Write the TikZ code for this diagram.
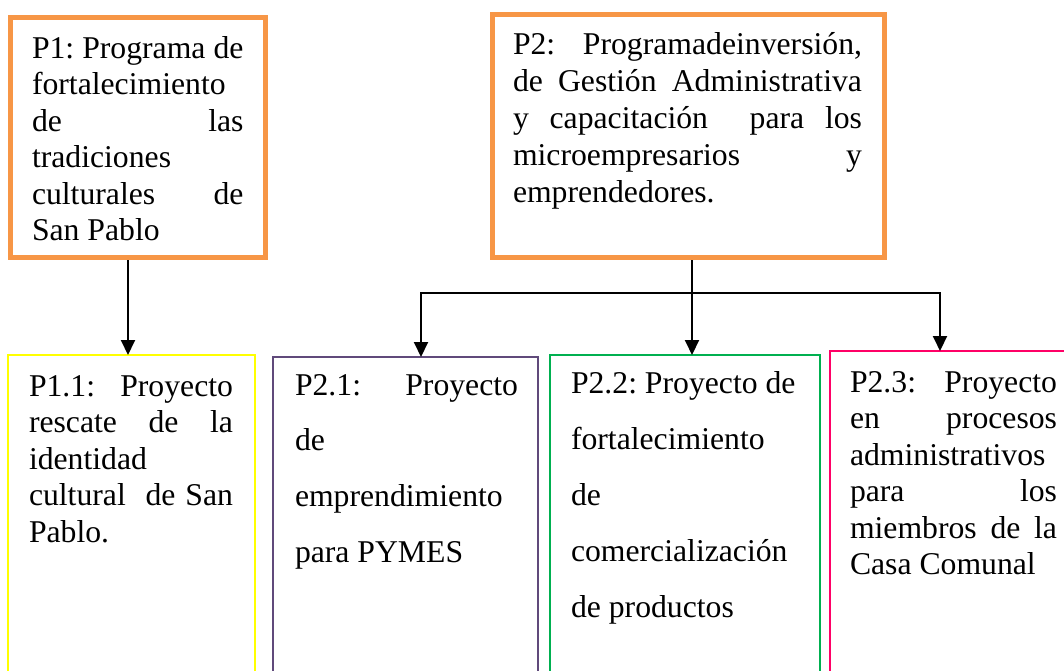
\documentclass[tikz,border=0pt]{standalone}
\usepackage{fontspec}
\setmainfont{Liberation Serif}
\usetikzlibrary{arrows.meta}
\definecolor{orng}{HTML}{F79646}
\definecolor{yel}{HTML}{FFFF00}
\definecolor{purp}{HTML}{604A7B}
\definecolor{grn}{HTML}{00B050}
\definecolor{pnk}{HTML}{FF0066}
\newcommand\JL[1]{\hbox to\linewidth{\spaceskip=0pt\xspaceskip=0pt #1}\par}
\hbadness=10000
\hfuzz=5pt
\begin{document}
\begin{tikzpicture}[x=1pt,y=-1pt,
  prog/.style={draw=orng, line width=5pt, inner sep=0pt, outer sep=0pt, anchor=north west},
  proj/.style={line width=2pt, inner sep=0pt, outer sep=0pt, anchor=north west},
  txt/.style={anchor=base west, inner sep=0pt, outer sep=0pt, font=\fontsize{31.7}{36.5}\selectfont\frenchspacing},
  txtd/.style={txt, font=\fontsize{31.7}{55.8}\selectfont\frenchspacing},
  arr/.style={line width=2pt, -{Triangle[width=14pt,length=15pt]}},
  ln/.style={line width=2pt}]
\useasboundingbox (0,0) rectangle (1064,671);
\clip (0,0) rectangle (1064,671);

% boxes
\node[prog, minimum width=255.5pt, minimum height=240pt] (p1) at (10,17.5) {};
\node[prog, minimum width=391.5pt, minimum height=243pt] (p2) at (492.5,14.5) {};
\node[proj, draw=yel, minimum width=247pt, minimum height=345pt] (p11) at (8,355) {};
\node[proj, draw=purp, minimum width=265pt, minimum height=345pt] (p21) at (273,357) {};
\node[proj, draw=grn, minimum width=270pt, minimum height=345pt] (p22) at (550,355) {};
\node[proj, draw=pnk, minimum width=260pt, minimum height=345pt] (p23) at (830,351) {};

% texts
\node[txt, text width=211.5pt] (t1) at (32,58.3) {\JL{P1: Programa de}%
\JL{fortalecimiento\hfil}
\JL{de\hfill las}
\JL{tradiciones\hfil}
\JL{culturales\hfill de}
\JL{San Pablo\hfil}
};
\node[txt, text width=349pt, font=\fontsize{31.7}{36.8}\selectfont\frenchspacing] (t2) at (513,55) {\JL{P2: Programadeinversión,}%
\JL{de Gestión Administrativa}
\JL{y capacitación\ \ para los}
\JL{microempresarios\hfill y}
\JL{emprendedores.\hfil}
};
\node[txt, text width=204pt] (t11) at (29,396) {\JL{P1.1: Proyecto}%
\JL{rescate de la}
\JL{identidad\hfil}
\JL{cultural\ \ de San}
\JL{Pablo.\hfil}
};
\node[txtd, text width=223pt] (t21) at (295,395) {\JL{P2.1: Proyecto}%
\JL{de\hfil}
\JL{emprendimiento\hfil}
\JL{para PYMES\hfil}
};
\node[txtd, text width=240pt, font=\fontsize{31.7}{56}\selectfont\frenchspacing] (t22) at (571,393) {\JL{P2.2: Proyecto de\hfil}%
\JL{fortalecimiento\hfil}
\JL{de\hfil}
\JL{comercialización\hfil}
\JL{de productos\hfil}
};
\node[txt, text width=207pt] (t23) at (850,392) {\JL{P2.3: Proyecto}%
\JL{en procesos}
\JL{administrativos\hfil}
\JL{para los}
\JL{miembros de la}
\JL{Casa Comunal\hfil}
};

% connectors
\coordinate (a1) at (128,0);
\coordinate (jn) at (692,293);
\coordinate (jl) at (421,293);
\coordinate (jr) at (940,293);
\draw[arr] ([yshift=-2.5pt]p1.south -| a1) -- (p11.north -| a1);
\draw[arr] ([yshift=-2.5pt]p2.south -| jn) -- (p22.north -| jn);
\draw[arr] (jn) -| (p21.north -| jl);
\draw[arr] (jn) -| (p23.north -| jr);
\end{tikzpicture}
\end{document}
